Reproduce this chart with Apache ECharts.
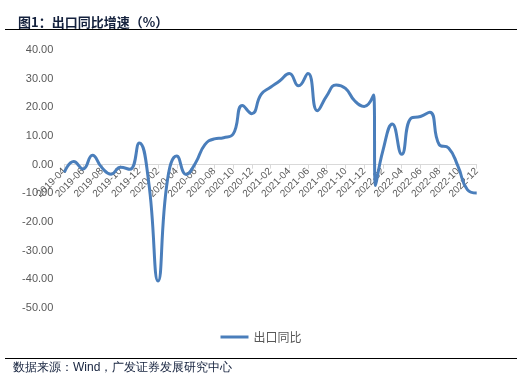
<!DOCTYPE html>
<html>
<head>
<meta charset="utf-8">
<script src="https://cdn.jsdelivr.net/npm/echarts@6/dist/echarts.min.js"></script>
<style>
html,body{margin:0;padding:0;background:#fff;}
#c{width:522px;height:388px;}
</style>
</head>
<body>
<div id="c"></div>
<script>
// Month labels (one observation per month)
const months = [
  '2019-04','2019-05','2019-06','2019-07','2019-08','2019-09','2019-10','2019-11','2019-12',
  '2020-01','2020-02','2020-03','2020-04','2020-05','2020-06','2020-07','2020-08','2020-09','2020-10','2020-11','2020-12',
  '2021-01','2021-02','2021-03','2021-04','2021-05','2021-06','2021-07','2021-08','2021-09','2021-10','2021-11','2021-12',
  '2022-01','2022-02','2022-03','2022-04','2022-05','2022-06','2022-07','2022-08','2022-09','2022-10','2022-11','2022-12'
];
// 出口同比 (%)
const values = [
  -2.7, 1.1, -1.5, 3.3, -1.0, -3.3, -0.9, -1.6, 7.6,
  -6.0, -40.6, -5.5, 3.0, -3.4, 0.6, 7.0, 9.0, 9.4, 10.6, 20.6, 17.8,
  24.5, 27.0, 29.3, 31.8, 27.5, 31.8, 18.8, 24.0, 27.8, 26.6, 22.2, 20.3,
  24.3, 5.0, 14.2, 3.6, 16.2, 16.8, 18.3, 7.0, 5.8, -0.5, -8.7, -9.9
];
// second reading recorded in 2022-01 (plotted in the same month slot)
const extraMonth = '2022-01';
const extraValue = -7.3;
const yMin = -50, yMax = 40, yStep = 10;

const data = values.map((v, i) => [i, v]);
const ei = months.indexOf(extraMonth);
data.splice(ei + 1, 0, [ei + 0.2, extraValue]);

const gridTop = 50, gridBottom = 80, H = 388;
const plotH = H - gridTop - gridBottom;
const zeroOffset = -plotH * (0 - yMin) / (yMax - yMin);

const chart = echarts.init(document.getElementById('c'), null, {renderer: 'canvas'});
const font = 'Arial, "Liberation Sans", "Noto Sans CJK SC", sans-serif';
chart.setOption({
  animation: false,
  backgroundColor: '#fff',
  textStyle: {fontFamily: font},
  title: {
    text: '图1：出口同比增速（%）',
    left: 13, top: 11,
    textStyle: {fontFamily: '"Noto Sans CJK SC", sans-serif', fontSize: 13, fontWeight: 'bold', color: '#14213d'}
  },
  graphic: [
    {type: 'line', shape: {x1: 5, y1: 29.5, x2: 517, y2: 29.5}, style: {stroke: '#000', lineWidth: 1}},
    {type: 'line', shape: {x1: 5, y1: 358.5, x2: 517, y2: 358.5}, style: {stroke: '#000', lineWidth: 1}},
    {type: 'text', left: 13, top: 362, style: {text: '数据来源：Wind，广发证券发展研究中心', fontSize: 12, fill: '#14213d', font: '12px "Noto Sans CJK SC", Arial, sans-serif'}}
  ],
  legend: {
    data: [{name: '出口同比', icon: 'rect'}],
    left: 'center', top: 326,
    itemWidth: 28, itemHeight: 3, itemGap: 10,
    itemStyle: {color: '#4A7EBB'},
    lineStyle: {width: 0},
    textStyle: {fontSize: 12, color: '#595959', fontFamily: '"Noto Sans CJK SC", sans-serif'}
  },
  grid: {left: 64.3, right: 45.3, top: gridTop, bottom: gridBottom, containLabel: false},
  xAxis: {
    type: 'value', min: 0, max: months.length - 1, interval: 2,
    position: 'bottom', offset: zeroOffset,
    axisLine: {show: true, onZero: false, lineStyle: {color: '#d9d9d9', width: 1}},
    axisTick: {show: true, length: 4, lineStyle: {color: '#d9d9d9'}},
    splitLine: {show: false},
    axisLabel: {
      rotate: 45, fontSize: 10, color: '#595959', margin: 5,
      formatter: v => months[Math.round(v)] || ''
    }
  },
  yAxis: {
    type: 'value', min: yMin, max: yMax, interval: yStep,
    axisLine: {show: false}, axisTick: {show: false}, splitLine: {show: false},
    axisLabel: {fontSize: 11, color: '#595959', margin: 11, formatter: v => v.toFixed(2)}
  },
  series: [{
    name: '出口同比', type: 'line', data: data,
    smooth: 0.5, showSymbol: false, symbol: 'circle',
    lineStyle: {color: '#4A7EBB', width: 3},
    itemStyle: {color: '#4A7EBB'}
  }]
});
</script>
</body>
</html>
